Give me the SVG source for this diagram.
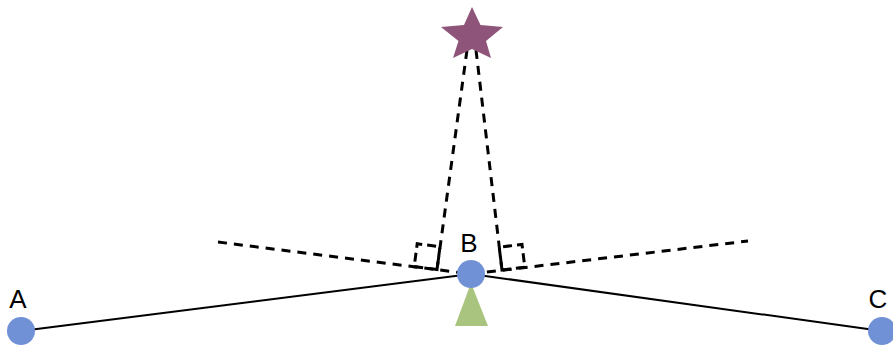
<svg xmlns="http://www.w3.org/2000/svg" width="893" height="346" viewBox="0 0 893 346">
<style>
.solid{stroke:#000;stroke-width:2;fill:none}
.dash{stroke:#000;stroke-width:3;fill:none;stroke-dasharray:9 7}
.mark{stroke:#000;stroke-width:3;fill:none;stroke-dasharray:9 5}
.pt{fill:#7191D6}
.lbl{font-family:"Liberation Sans",Arial,sans-serif;font-size:26px;fill:#000;text-anchor:middle}
</style>
<rect width="893" height="346" fill="#fff"/>
<g id="connectors">
<line class="solid" x1="21" y1="331" x2="471" y2="274"/>
<line class="solid" x1="471" y1="274" x2="882" y2="331"/>
<line class="dash" x1="218" y1="242" x2="471" y2="274"/>
<line class="dash" x1="471" y1="274" x2="748" y2="241"/>
<line class="dash" x1="467" y1="50" x2="437" y2="269.5"/>
<line class="dash" x1="476" y1="50" x2="502" y2="270"/>
<polygon class="mark" points="437,269.5 414.2,266.6 417.2,243.8 440,246.7"/>
<polygon class="mark" points="502,270 524.8,267.2 522,244.4 499.2,247.2"/>
</g>
<g id="star">
<polygon fill="#8E5479" points="472,7 480.5,25 503,27 486,41 491,58 472,49 453,58 458.5,41 441,27 464,25"/>
</g>
<g id="nodeA">
<circle class="pt" cx="21" cy="331" r="14"/>
<text class="lbl" x="18" y="308">A</text>
</g>
<g id="nodeB">
<polygon fill="#A9C47F" points="471,283 488,326 455,326"/>
<circle class="pt" cx="471" cy="274" r="14"/>
<text class="lbl" x="469" y="252">B</text>
</g>
<g id="nodeC">
<circle class="pt" cx="882" cy="331" r="14"/>
<text class="lbl" x="878" y="308">C</text>
</g>
</svg>
